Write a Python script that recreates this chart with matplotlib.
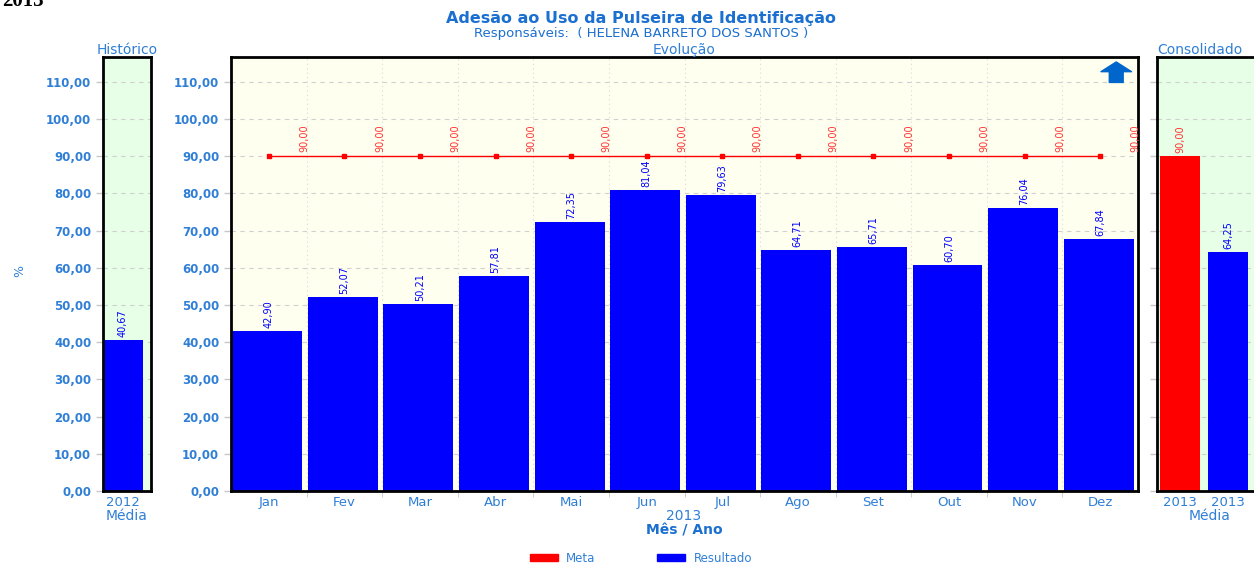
import matplotlib.pyplot as plt
from matplotlib.patches import Patch
import numpy as np

# data
meses = ["Jan", "Fev", "Mar", "Abr", "Mai", "Jun", "Jul", "Ago", "Set", "Out", "Nov", "Dez"]
resultado = [42.90, 52.07, 50.21, 57.81, 72.35, 81.04, 79.63, 64.71, 65.71, 60.70, 76.04, 67.84]
meta = [90.00] * 12
hist_anos = ["2012"]
hist_media = [40.67]
cons_anos = ["2013", "2013"]
cons_valores = [90.00, 64.25]
cons_cores = ["#ff0000", "#0000ff"]

W, H = 1254, 564
azul_txt = "#2f7fd6"
fig = plt.figure(figsize=(W / 100, H / 100), dpi=100)

def px_axes(x0, x1, y0, y1):
    return fig.add_axes([x0 / W, 1 - y1 / H, (x1 - x0) / W, (y1 - y0) / H])

def fmt(v):
    return f"{v:.2f}".replace(".", ",")

def estilo(ax, bg):
    ax.set_facecolor(bg)
    ax.set_ylim(0, 116.7)
    ax.set_yticks(np.arange(0, 111, 10))
    ax.grid(axis="y", color="#d0d0d0", linestyle=(0, (4, 4)), linewidth=0.8)
    ax.set_axisbelow(True)
    for s in ax.spines.values():
        s.set_color("black")
        s.set_linewidth(2)
    ax.tick_params(axis="y", colors="#c8c8c8", labelcolor=azul_txt, labelsize=8.5, length=5, width=1)
    ax.tick_params(axis="x", colors="#c8c8c8", labelcolor=azul_txt, labelsize=9.5, length=0)
    for t in ax.get_yticklabels():
        t.set_fontweight("bold")

def rotulos(ax, xs, vals, cores):
    for x, v, c in zip(xs, vals, cores):
        ax.text(x, v + 0.8, fmt(v), rotation=90, ha="center", va="bottom", fontsize=7, color=c)

# Historico
ax1 = px_axes(103, 151, 57, 491)
ax1.bar(range(len(hist_media)), hist_media, width=1.0, color="#0000ff", zorder=2)
rotulos(ax1, range(len(hist_media)), hist_media, ["#0000ff"])
ax1.set_xlim(-0.5, 0.7)
ax1.set_xticks(range(len(hist_anos)))
ax1.set_xticklabels(hist_anos)
ax1.set_yticks(np.arange(0, 111, 10))
ax1.set_yticklabels([fmt(v) for v in np.arange(0, 111, 10)])
estilo(ax1, "#e6ffe6")
ax1.set_xlabel("Média", color=azul_txt, fontsize=10, labelpad=0)
ax1.set_title("Histórico", color=azul_txt, fontsize=10, pad=2)
fig.text(20 / W, 1 - 271 / H, "%", rotation=90, ha="center", va="center", fontsize=9, color=azul_txt)

# Evolucao
ax2 = px_axes(231, 1138, 57, 491)
x = np.arange(len(meses))
ax2.bar(x - 0.02, resultado, width=0.925, color="#0000ff", zorder=2)
ax2.plot(x, meta, color="#ff0000", linewidth=1, marker="s", markersize=3, zorder=3)
rotulos(ax2, x, resultado, ["#0000ff"] * len(x))
for xi, v in zip(x, meta):
    ax2.text(xi + 0.47, v + 1.2, fmt(v), rotation=90, ha="center", va="bottom",
             fontsize=7, color="#ff3333")
ax2.set_xlim(-0.5, 11.5)
ax2.set_xticks(x)
ax2.set_xticklabels(meses)
ax2.set_xticks(np.arange(0.5, 11.5, 1), minor=True)
ax2.set_yticks(np.arange(0, 111, 10))
ax2.set_yticklabels([fmt(v) for v in np.arange(0, 111, 10)])
estilo(ax2, "#fffff0")
ax2.tick_params(axis="x", which="minor", length=4, colors="#c8c8c8")
ax2.grid(axis="x", which="minor", color="#d8d8d8", linestyle=(0, (1, 3)), linewidth=0.8)
ax2.set_title("Evolução", color=azul_txt, fontsize=10, pad=2)
ax2.annotate("", xy=(0.976, 0.995), xytext=(0.976, 0.935), xycoords="axes fraction",
             arrowprops=dict(arrowstyle="simple,head_width=2.2,head_length=0.7,tail_width=1.0",
                             color="#0066cc"))

# Consolidado
ax3 = px_axes(1157, 1262, 57, 491)
xc = np.arange(len(cons_valores))
ax3.bar(xc, cons_valores, width=0.83, color=cons_cores, zorder=2)
rotulos(ax3, xc, cons_valores, ["#ff3333", "#0000ff"])
ax3.set_xlim(-0.48, 1.71)
ax3.set_xticks(xc)
ax3.set_xticklabels(cons_anos)
estilo(ax3, "#e6ffe6")
ax3.set_yticklabels([])
ax3.set_xlabel("Média", color=azul_txt, fontsize=10, labelpad=0)
ax3.set_title("Consolidado", color=azul_txt, fontsize=10, pad=2, loc="left")

# textos gerais
fig.text(641 / W, 1 - 19 / H, "Adesão ao Uso da Pulseira de Identificação", ha="center", va="center",
         fontsize=11.5, fontweight="bold", color="#1a6fd0")
fig.text(641 / W, 1 - 34 / H, "Responsáveis:  ( HELENA BARRETO DOS SANTOS )", ha="center", va="center",
         fontsize=9.5, color="#1a6fd0")
fig.text(684 / W, 1 - 516 / H, "2013", ha="center", va="center", fontsize=10, color=azul_txt)
fig.text(684 / W, 1 - 531 / H, "Mês / Ano", ha="center", va="center", fontsize=10,
         fontweight="bold", color="#1a6fd0")
fig.text(2 / W, 1 - 1 / H, "2013", ha="left", va="center", fontsize=15, fontweight="bold",
         family="Liberation Serif", color="black")

handles = [Patch(color="#ff0000", label="Meta"), Patch(color="#0000ff", label="Resultado")]
leg = fig.legend(handles=handles, loc="center", bbox_to_anchor=(641 / W, 1 - 558 / H), ncol=2,
                 frameon=False, fontsize=8.5, handlelength=2.4, handleheight=0.55,
                 columnspacing=5.2, handletextpad=0.7)
for t in leg.get_texts():
    t.set_color(azul_txt)

fig.savefig("out.png", dpi=100)
